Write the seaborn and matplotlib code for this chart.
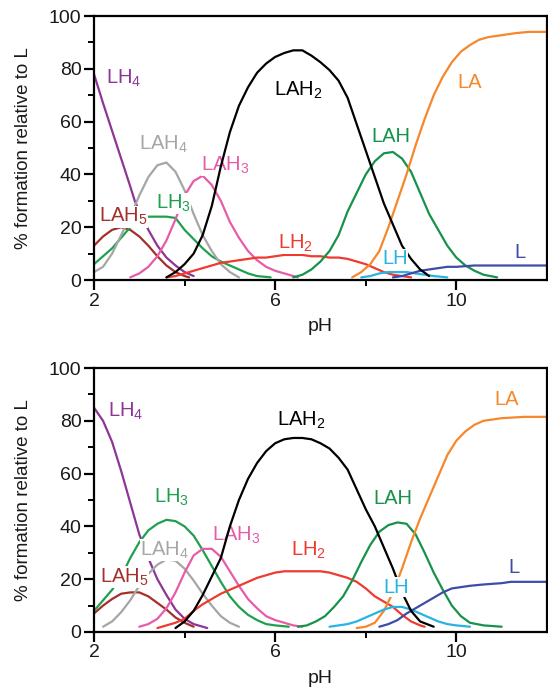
import matplotlib
matplotlib.use("Agg")
import matplotlib.pyplot as plt
from matplotlib.ticker import MultipleLocator, FixedLocator
import numpy as np
import pandas as pd
import seaborn as sns

# ---------------------------------------------------------------------------
# Species distribution (% formation relative to L) versus pH
# ---------------------------------------------------------------------------

# Upper panel
top_LH4_ph = [2.0, 2.2, 2.4, 2.6, 2.8, 2.9, 3.0, 3.2, 3.4, 3.6, 3.8, 4.0, 4.2]
top_LH4_pct = [78, 67, 56.5, 46, 35.5, 30, 26, 19, 13, 8.5, 5.5, 3, 1.5]

top_LAH5_ph = [2.0, 2.2, 2.4, 2.6, 2.8, 3.0, 3.2, 3.4, 3.6, 3.8, 4.0, 4.1]
top_LAH5_pct = [13, 16.5, 19, 20, 19, 16.5, 13, 9, 5.5, 3, 1.5, 1]

top_LH3_ph = [2.0, 2.2, 2.4, 2.6, 2.8, 3.0, 3.2, 3.4, 3.6, 3.8, 4.0, 4.2, 4.4,
              4.6, 4.8, 5.0, 5.2, 5.4, 5.6, 5.9]
top_LH3_pct = [6, 9, 12, 16, 20, 23, 24, 24, 24, 23.5, 19, 15.5, 12, 9, 7,
               5.5, 4, 2.5, 1.5, 1]

top_LAH4_ph = [2.0, 2.2, 2.4, 2.6, 2.8, 3.0, 3.2, 3.4, 3.6, 3.8, 4.0, 4.2,
               4.4, 4.6, 4.8, 5.0, 5.2]
top_LAH4_pct = [3, 5, 10, 17, 24, 32, 39, 43.5, 44.5, 41, 34, 25, 17, 11, 6,
                3, 1]

top_LAH3_ph = [2.8, 3.0, 3.2, 3.4, 3.6, 3.8, 4.0, 4.2, 4.4, 4.6, 4.8, 5.0,
               5.2, 5.4, 5.6, 5.8, 6.0, 6.2, 6.5]
top_LAH3_pct = [1, 2.5, 5, 9, 15, 23, 32, 37.5, 39.5, 36, 30, 22, 16, 11,
                7.5, 5, 3.5, 2.5, 1]

top_LAH2_ph = [3.6, 3.8, 4.0, 4.2, 4.4, 4.6, 4.8, 5.0, 5.2, 5.4, 5.6, 5.8,
               6.0, 6.2, 6.4, 6.6, 6.8, 7.0, 7.2, 7.4, 7.6, 7.8, 8.0, 8.2,
               8.4, 8.6, 8.8, 9.0, 9.2, 9.4]
top_LAH2_pct = [1, 3, 6, 10, 17, 28, 43, 56, 66, 73, 78.5, 82, 84.5, 86, 87,
                87, 85, 82.5, 79.5, 75.5, 69, 59, 49, 39, 29, 21, 13, 8, 4,
                1.5]

top_LH2_ph = [3.6, 3.8, 4.0, 4.2, 4.4, 4.6, 4.8, 5.0, 5.2, 5.4, 5.6, 5.8,
              6.0, 6.2, 6.4, 6.6, 6.8, 7.0, 7.2, 7.4, 7.6, 7.8, 8.0, 8.2,
              8.4, 8.6, 8.8, 9.0]
top_LH2_pct = [1, 1.5, 2.5, 3.5, 4.5, 5.5, 6.5, 7, 7.5, 8, 8.5, 8.5, 9, 9.5,
               9.5, 9.5, 9, 9, 8.5, 8.5, 8, 7, 6, 4.5, 3, 2, 1.5, 1]

top_LAH_ph = [6.4, 6.6, 6.8, 7.0, 7.2, 7.4, 7.6, 7.8, 8.0, 8.2, 8.4, 8.6,
              8.8, 9.0, 9.2, 9.4, 9.6, 9.8, 10.0, 10.2, 10.4, 10.6, 10.9]
top_LAH_pct = [1, 2, 4, 7, 11, 17, 26, 33, 40, 45, 48, 48.5, 46, 41, 33, 25,
               19, 13, 8.5, 5.5, 3.5, 2, 1]

top_LA_ph = [7.7, 7.9, 8.1, 8.3, 8.5, 8.7, 8.9, 9.1, 9.3, 9.5, 9.7, 9.9,
             10.1, 10.3, 10.5, 10.7, 10.9, 11.1, 11.3, 11.6, 12.0]
top_LA_pct = [1, 3, 6, 11, 20, 30, 40, 51, 61, 70, 77, 82.5, 86.5, 89, 91,
              92, 92.5, 93, 93.5, 94, 94]

top_LH_ph = [7.9, 8.1, 8.3, 8.5, 8.7, 8.9, 9.1, 9.3, 9.5, 9.8]
top_LH_pct = [1, 1.5, 2.5, 3, 3, 3, 2.5, 2, 1.5, 1]

top_L_ph = [8.6, 8.8, 9.0, 9.2, 9.4, 9.6, 9.8, 10.0, 10.4, 12.0]
top_L_pct = [1, 1.5, 2.5, 3.5, 4, 4.5, 5, 5, 5.5, 5.5]

# Lower panel
bot_LH4_ph = [2.0, 2.2, 2.4, 2.6, 2.8, 3.0, 3.2, 3.4, 3.6, 3.8, 4.0, 4.2,
              4.4, 4.5]
bot_LH4_pct = [85, 80, 72, 61, 49, 37, 28, 20, 14, 8.5, 5, 3, 2, 1.5]

bot_LAH5_ph = [2.0, 2.2, 2.4, 2.6, 2.8, 3.0, 3.2, 3.4, 3.6, 3.8, 4.0, 4.2]
bot_LAH5_pct = [7, 10, 12.5, 14.5, 15, 15, 13.5, 11, 8.5, 5.5, 3.5, 2]

bot_LH3_ph = [2.0, 2.2, 2.4, 2.6, 2.8, 3.0, 3.2, 3.4, 3.6, 3.8, 4.0, 4.2,
              4.4, 4.6, 4.8, 5.0, 5.2, 5.4, 5.6, 5.8, 6.0, 6.3]
bot_LH3_pct = [8, 12, 16, 21, 28, 34, 38.5, 41, 42.5, 42, 40, 36.5, 31, 25,
               19, 13.5, 9.5, 6.5, 4.5, 3, 2.5, 2]

bot_LAH4_ph = [2.2, 2.4, 2.6, 2.8, 3.0, 3.2, 3.4, 3.6, 3.8, 4.0, 4.2, 4.4,
               4.6, 4.8, 5.0, 5.2]
bot_LAH4_pct = [2, 4, 7.5, 12, 17.5, 22, 25.5, 27.5, 27, 24, 19.5, 14.5, 10,
                6, 3.5, 2]

bot_LAH3_ph = [3.0, 3.2, 3.4, 3.6, 3.8, 4.0, 4.2, 4.4, 4.6, 4.8, 5.0, 5.2,
               5.4, 5.6, 5.8, 6.0, 6.2, 6.4, 6.6]
bot_LAH3_pct = [2, 3, 5, 9, 15, 22.5, 29, 31.5, 31.5, 28.5, 23, 17.5, 12.5,
                9, 6, 4.5, 3.5, 2.5, 2]

bot_LAH2_ph = [3.8, 4.0, 4.2, 4.4, 4.6, 4.8, 5.0, 5.2, 5.4, 5.6, 5.8, 6.0,
               6.2, 6.4, 6.6, 6.8, 7.0, 7.2, 7.4, 7.6, 7.8, 8.0, 8.2, 8.4,
               8.6, 8.8, 9.0, 9.2, 9.5]
bot_LAH2_pct = [1.5, 4, 8, 14, 21, 28, 40, 50, 58, 64, 68.5, 71.5, 73, 73.5,
                73.5, 73, 71.5, 69.5, 66, 61.5, 54, 46.5, 40, 32, 24, 15, 8,
                4, 2]

bot_LH2_ph = [3.4, 3.6, 3.8, 4.0, 4.2, 4.4, 4.6, 4.8, 5.0, 5.2, 5.4, 5.6,
              5.8, 6.0, 6.2, 6.6, 7.0, 7.2, 7.4, 7.6, 7.8, 8.0, 8.2, 8.4,
              8.6, 8.8, 9.0, 9.2, 9.3]
bot_LH2_pct = [1.5, 2.5, 3.5, 5, 8, 10.5, 12.5, 14.5, 16, 17.5, 19, 20.5,
               21.5, 22.5, 23, 23, 23, 22.5, 21.5, 20.5, 19, 16.5, 13.5,
               11.5, 9.5, 6.5, 4, 2.5, 2]

bot_LAH_ph = [6.5, 6.7, 6.9, 7.1, 7.3, 7.5, 7.7, 7.9, 8.1, 8.3, 8.5, 8.7,
              8.9, 9.1, 9.3, 9.5, 9.7, 9.9, 10.1, 10.3, 10.6, 11.0]
bot_LAH_pct = [2, 2.5, 4, 6, 9.5, 13.5, 19.5, 26.5, 33, 38, 40.5, 41.5, 41,
               37, 30, 22.5, 16, 10, 6, 3.5, 2.5, 2]

bot_LA_ph = [7.8, 8.0, 8.2, 8.4, 8.6, 8.8, 9.0, 9.2, 9.4, 9.6, 9.8, 10.0,
             10.2, 10.4, 10.6, 10.8, 11.0, 11.5, 12.0]
bot_LA_pct = [1.5, 2, 3.5, 8, 15, 24, 34, 43, 51, 59, 67, 72.5, 76, 78.5,
              80, 80.5, 81, 81.5, 81.5]

bot_LH_ph = [7.2, 7.4, 7.6, 7.8, 8.0, 8.2, 8.4, 8.6, 8.8, 9.0, 9.2, 9.4,
             9.6, 9.8, 10.0, 10.3]
bot_LH_pct = [2, 2.5, 3, 4, 5.5, 7, 8.5, 9.5, 9.5, 8.5, 7, 5.5, 4, 3, 2.5, 2]

bot_L_ph = [8.3, 8.5, 8.7, 8.9, 9.1, 9.3, 9.5, 9.7, 9.9, 10.1, 10.3, 10.6,
            11.0, 11.2, 12.0]
bot_L_pct = [2, 3, 4.5, 7, 9, 11, 13, 15, 16.5, 17, 17.5, 18, 18.5, 19, 19]

species = ["LH4", "LAH5", "LH3", "LAH4", "LAH3", "LAH2", "LH2", "LAH", "LA",
           "LH", "L"]

species_colors = {
    "LH4": "#8E3596",
    "LAH5": "#A3302B",
    "LH3": "#1FA04F",
    "LAH4": "#A6A6A6",
    "LAH3": "#E65CAA",
    "LAH2": "#000000",
    "LH2": "#EE3B2F",
    "LAH": "#17924A",
    "LA": "#F6872B",
    "LH": "#29B3E2",
    "L": "#3E4CA6",
}

species_text = {
    "LH4": "LH$_4$", "LAH5": "LAH$_5$", "LH3": "LH$_3$", "LAH4": "LAH$_4$",
    "LAH3": "LAH$_3$", "LAH2": "LAH$_2$", "LH2": "LH$_2$", "LAH": "LAH",
    "LA": "LA", "LH": "LH", "L": "L",
}

# Species label anchors (left edge, vertical centre) in data units
top_label_ph = {"LH4": 2.27, "LAH4": 3.0, "LAH3": 4.36, "LH3": 3.36,
                "LAH5": 2.12, "LAH2": 5.98, "LAH": 8.13, "LA": 10.02,
                "LH2": 6.07, "LH": 8.36, "L": 11.29}
top_label_pct = {"LH4": 76.5, "LAH4": 51.5, "LAH3": 43.5, "LH3": 29,
                 "LAH5": 24, "LAH2": 72, "LAH": 54.5, "LA": 75,
                 "LH2": 14, "LH": 8, "L": 10.6}
bot_label_ph = {"LH4": 2.32, "LH3": 3.32, "LAH3": 4.6, "LAH4": 3.02,
                "LAH5": 2.14, "LAH2": 6.03, "LH2": 6.34, "LAH": 8.17,
                "LH": 8.39, "LA": 10.85, "L": 11.14}
bot_label_pct = {"LH4": 83.7, "LH3": 51, "LAH3": 36.7, "LAH4": 31,
                 "LAH5": 20.8, "LAH2": 80, "LH2": 31, "LAH": 50.7,
                 "LH": 17, "LA": 88, "L": 24.6}

g = globals()


def panel_frame(prefix):
    frames = []
    for sp in species:
        frames.append(pd.DataFrame({
            "pH": g[f"{prefix}_{sp}_ph"],
            "pct": g[f"{prefix}_{sp}_pct"],
            "species": sp,
        }))
    return pd.concat(frames, ignore_index=True)


sns.set_theme(style="ticks")
plt.rcParams["font.family"] = ["Liberation Sans", "DejaVu Sans"]
plt.rcParams["mathtext.default"] = "regular"

fig = plt.figure(figsize=(5.48, 6.88), dpi=100)
ax_top = fig.add_axes([0.1715, 0.5930, 0.8266, 0.3837])
ax_bot = fig.add_axes([0.1715, 0.0814, 0.8266, 0.3837])

for ax, prefix, lab_ph, lab_pct in [
    (ax_top, "top", top_label_ph, top_label_pct),
    (ax_bot, "bot", bot_label_ph, bot_label_pct),
]:
    df = panel_frame(prefix)
    sns.lineplot(data=df, x="pH", y="pct", hue="species", palette=species_colors,
                 estimator=None, units="species", sort=True, linewidth=1.6,
                 legend=False, ax=ax)
    # the LAH2 trace runs over the neighbouring labels
    for line in ax.get_lines():
        if matplotlib.colors.to_hex(line.get_color()) == "#000000":
            line.set_zorder(4)

    for sp in species:
        ax.text(lab_ph[sp], lab_pct[sp], species_text[sp], color=species_colors[sp],
                fontsize=14.5, ha="left", va="center",
                zorder=5 if sp == "LH" else 3,
                bbox=dict(facecolor="white", edgecolor="none", pad=0.2))

    ax.set_xlim(2, 12)
    ax.set_ylim(0, 100)
    ax.xaxis.set_major_locator(FixedLocator([2, 6, 10]))
    ax.xaxis.set_minor_locator(FixedLocator([4, 8]))
    ax.yaxis.set_major_locator(MultipleLocator(20))
    ax.yaxis.set_minor_locator(MultipleLocator(10))
    ax.tick_params(which="major", direction="out", length=7, width=1.6,
                   labelsize=14, pad=2, color="black", labelcolor="#1a1a1a")
    ax.tick_params(which="minor", direction="out", length=4, width=1.4,
                   color="black")
    for side in ["left", "right", "top", "bottom"]:
        ax.spines[side].set_visible(True)
        ax.spines[side].set_linewidth(1.6)
        ax.spines[side].set_color("black")
    ax.set_xlabel("pH", fontsize=14, labelpad=6, color="#1a1a1a")
    ax.set_ylabel("% formation relative to L", fontsize=13.5, labelpad=12,
                  color="#1a1a1a")

fig.savefig("out.png", dpi=100)
